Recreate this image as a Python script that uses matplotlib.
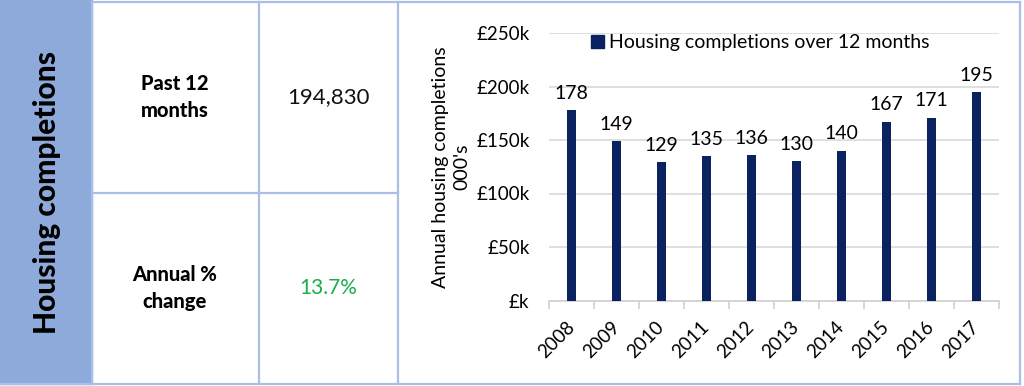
import matplotlib
matplotlib.use("Agg")
import matplotlib.pyplot as plt
from matplotlib.lines import Line2D
from matplotlib.patches import Rectangle, Patch

years = ["2008", "2009", "2010", "2011", "2012", "2013", "2014", "2015", "2016", "2017"]
completions = [178, 149, 129, 135, 136, 130, 140, 167, 171, 195]  # thousands
y_ticks = [0, 50, 100, 150, 200, 250]
y_tick_labels = ["£k", "£50k", "£100k", "£150k", "£200k", "£250k"]
panel_title = "Housing completions"
row_labels = ["Past 12\nmonths", "Annual %\nchange"]
row_values = ["194,830", "13.7%"]
row_value_colors = ["#111111", "#1aaf4b"]
row_value_sizes = [16, 15]
legend_label = "Housing completions over 12 months"
y_label = "Annual housing completions\n000's"

W, H = 1024, 386
fig = plt.figure(figsize=(W / 100, H / 100), dpi=100)

# background axes in pixel coordinates
bg = fig.add_axes([0, 0, 1, 1])
bg.set_xlim(0, W)
bg.set_ylim(H, 0)
bg.axis("off")

line_col = "#a9bfe6"
bg.add_patch(Rectangle((0, 0), 92, 384, color="#8eaadb", zorder=1))
lw = 1.6
for x in [92, 259, 398, 1020]:
    bg.add_line(Line2D([x, x], [1.5, 383.5], color=line_col, lw=lw))
bg.add_line(Line2D([92, 1020], [1.5, 1.5], color=line_col, lw=lw))
bg.add_line(Line2D([0, 1020], [383.5, 383.5], color=line_col, lw=lw))
bg.add_line(Line2D([92, 398], [192.5, 192.5], color=line_col, lw=lw))

tfont = "Lato"
bg.text(47, 193, panel_title, rotation=90, ha="center", va="center",
        fontsize=21.5, fontweight=900, family=tfont, color="black")
for i, (lab, val, col, sz) in enumerate(zip(row_labels, row_values, row_value_colors, row_value_sizes)):
    yc = 97 + i * 191
    bg.text(175, yc, lab, ha="center", va="center", fontsize=14.5,
            fontweight=900, family=tfont, linespacing=1.45)
    bg.text(328, yc, val, ha="center", va="center", fontsize=sz,
            family=tfont, color=col)

# chart axes
left, right, top, bottom = 549, 999, 33, 300.5
ax = fig.add_axes([left / W, 1 - bottom / H, (right - left) / W, (bottom - top) / H])
cfont = "Lato"
bar_col = "#0b2260"
x = list(range(len(years)))
bars = ax.bar(x, completions, width=0.18, color=bar_col, zorder=3)
ax.set_xlim(-0.5, len(years) - 0.5)
ax.set_ylim(0, 250)
ax.set_yticks(y_ticks)
ax.set_yticklabels(y_tick_labels, family=cfont, fontsize=13.5)
ax.grid(axis="y", color="#d9d9d9", lw=1.2, zorder=0)
for s in ["top", "right", "left"]:
    ax.spines[s].set_visible(False)
ax.spines["bottom"].set_color("#d0d0d0")
ax.spines["bottom"].set_linewidth(1.2)
ax.tick_params(axis="y", length=0, pad=14)
ax.set_xticks(x)
ax.set_xticklabels(years, rotation=45, ha="right", va="center", family=cfont,
                   fontsize=13.5, rotation_mode="anchor")
ax.tick_params(axis="x", which="major", length=0, pad=17)
ax.set_xticks([i - 0.5 for i in range(len(years) + 1)], minor=True)
ax.tick_params(axis="x", which="minor", length=6, color="#d0d0d0", width=1.2)

for xi, v in zip(x, completions):
    ax.annotate(str(v), (xi, v), xytext=(0, 6), textcoords="offset points",
                ha="center", va="bottom", family=cfont, fontsize=14)

ax.set_ylabel(y_label, family=cfont, fontsize=14, linespacing=1.3, labelpad=4)

ax.legend([Patch(color=bar_col)], [legend_label], loc="center",
          bbox_to_anchor=(0.47, 0.963), frameon=False,
          prop={"family": cfont, "size": 14}, handlelength=0.65, handleheight=0.65,
          handletextpad=0.3, borderaxespad=0)

fig.savefig("out.png", dpi=100)
